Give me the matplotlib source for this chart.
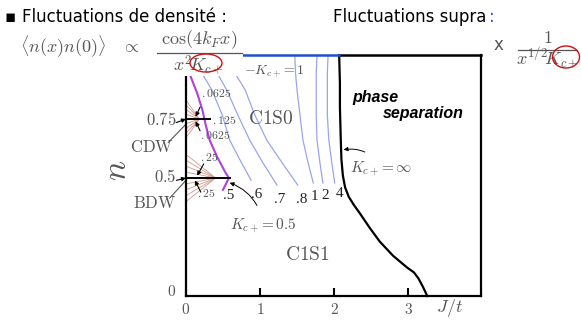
import matplotlib
matplotlib.use('Agg')
import matplotlib.pyplot as plt
from matplotlib.patches import Ellipse, Rectangle
from matplotlib.lines import Line2D

plt.rcParams['mathtext.fontset'] = 'cm'

W, H = 581, 323
GRAY = '#555555'

# phase separation boundary (K_c+ = infinity)
ps_J = [2.07, 2.08, 2.08, 2.09, 2.10, 2.12, 2.15, 2.20, 2.27, 2.35, 2.48, 2.62, 2.80, 2.99, 3.08, 3.14, 3.20, 3.26]
ps_n = [1.02, 0.90, 0.80, 0.68, 0.58, 0.51, 0.46, 0.42, 0.385, 0.35, 0.29, 0.23, 0.17, 0.12, 0.10, 0.075, 0.04, 0.0]

# K_c+ = 0.5 line (magenta)
k05_J = [0.01, 0.05, 0.15, 0.22, 0.27, 0.32, 0.42, 0.53, 0.58, 0.50]
k05_n = [1.00, 0.94, 0.86, 0.79, 0.72, 0.66, 0.59, 0.525, 0.50, 0.45]

# K_c+ contours in C1S0
contour_labels = ['.6', '.7', '.8', '1', '2', '4']
contour_J = [
    [0.12, 0.23, 0.35, 0.49, 0.59, 0.73, 0.88],
    [0.30, 0.42, 0.55, 0.70, 0.86, 1.04, 1.23],
    [0.53, 0.66, 0.80, 0.93, 1.09, 1.30, 1.51],
    [1.47, 1.48, 1.50, 1.54, 1.58, 1.65, 1.72],
    [1.77, 1.76, 1.76, 1.76, 1.77, 1.81, 1.85],
    [1.92, 1.91, 1.91, 1.91, 1.93, 1.97, 2.01],
]
contour_n = [
    [1.02, 0.936, 0.873, 0.767, 0.661, 0.576, 0.49],
    [1.02, 0.945, 0.873, 0.767, 0.661, 0.564, 0.47],
    [1.02, 0.945, 0.873, 0.767, 0.661, 0.564, 0.47],
    [1.02, 0.945, 0.873, 0.767, 0.661, 0.564, 0.479],
    [1.02, 0.945, 0.873, 0.767, 0.661, 0.564, 0.479],
    [1.02, 0.945, 0.873, 0.767, 0.661, 0.564, 0.479],
]
contour_label_J = [0.96, 1.27, 1.56, 1.74, 1.88, 2.07]
contour_label_n = [0.43, 0.41, 0.41, 0.42, 0.425, 0.435]

# fans near the CDW / BDW points
cdw_n, cdw_Jend = 0.75, 0.18
cdw_offsets = [-0.08, -0.06, -0.04, -0.02, 0.02, 0.04, 0.06, 0.08]
bdw_n, bdw_Jend = 0.50, 0.40
bdw_offsets = [-0.10, -0.075, -0.05, -0.025, 0.025, 0.05, 0.075, 0.10]

small_labels = ['.0625', '.125', '.0625', '.25', '.25']
small_J = [0.41, 0.52, 0.40, 0.31, 0.28]
small_n = [0.86, 0.745, 0.68, 0.585, 0.435]


def fp(x, y):
    """pixel position -> figure fraction"""
    return x / W, 1 - y / H


fig = plt.figure(figsize=(W / 100, H / 100), dpi=100)
fig.patch.set_facecolor('white')

ax = fig.add_axes([186 / W, (H - 296) / H, 295 / W, 241 / H])
ax.set_xlim(0, 295 / 74)
ax.set_ylim(0, 241 / 236)
for s in ax.spines.values():
    s.set_linewidth(1.6)
ax.spines['top'].set_visible(False)
ax.plot([2.07, 295 / 74], [1.0205, 1.0205], color='k', lw=1.8, clip_on=False, zorder=5)
ax.plot([0.75, 2.07], [1.0205, 1.0205], color='#2050d0', lw=1.8, clip_on=False, zorder=5)

ax.set_xticks([0, 1, 2, 3])
ax.set_xticklabels(['$0$', '$1$', '$2$', '$3$'])
ax.set_yticks([])
ax.tick_params(axis='x', direction='in', length=6, width=1.5, labelsize=11,
               labelcolor=GRAY, pad=4)

# contours
for J, n in zip(contour_J, contour_n):
    ax.plot(J, n, color='#9aa4ea', lw=0.9)
for lab, x, y in zip(contour_labels, contour_label_J, contour_label_n):
    ax.text(x, y, lab, fontsize=11, family='Liberation Serif', ha='center', va='center',
            color='#222222')
ax.text(0.58, 0.425, '.5', fontsize=11, family='Liberation Serif', ha='center', va='center',
        color='#222222')

ax.plot(k05_J, k05_n, color='#b040e0', lw=1.5)
ax.plot(ps_J, ps_n, color='k', lw=1.6, clip_on=False)

# fans
for d in cdw_offsets:
    ax.plot([0, cdw_Jend], [cdw_n + d, cdw_n], color='#d09a8a', lw=0.6)
for d in bdw_offsets:
    ax.plot([0, bdw_Jend], [bdw_n + d, bdw_n], color='#d09a8a', lw=0.6)
ax.plot([0, 0.32], [cdw_n, cdw_n], color='k', lw=1.4)
ax.plot([0, 0.59], [bdw_n, bdw_n], color='k', lw=1.4)

arr = dict(arrowstyle='-|>', color='k', lw=0.8, mutation_scale=6, shrinkA=0, shrinkB=0)
for (x0, y0), (x1, y1) in [((0.19, 0.80), (0.13, 0.76)), ((0.19, 0.70), (0.13, 0.74)),
                           ((0.24, 0.56), (0.15, 0.51)), ((0.20, 0.44), (0.12, 0.49))]:
    ax.annotate('', xy=(x1, y1), xytext=(x0, y0), arrowprops=arr)

for lab, x, y in zip(small_labels, small_J, small_n):
    ax.text(x, y, '$' + lab + '$', fontsize=8.5, ha='center', va='center', color=GRAY)

ax.text(1.15, 0.754, r'$\mathrm{C1S0}$', fontsize=14, ha='center', va='center', color=GRAY)
ax.text(1.64, 0.174, r'$\mathrm{C1S1}$', fontsize=14, ha='center', va='center', color=GRAY)
ax.text(2.25, 0.843, 'phase', fontsize=11.5, fontweight='bold', style='italic',
        family='Liberation Sans', ha='left', va='center')
ax.text(2.66, 0.775, 'separation', fontsize=11.5, fontweight='bold', style='italic',
        family='Liberation Sans', ha='left', va='center')

ax.annotate(r'$K_{c+}\!=\infty$', xy=(2.13, 0.62), xytext=(2.64, 0.54), fontsize=11,
            color=GRAY, ha='center', va='center',
            arrowprops=dict(arrowstyle='-|>', color='k', lw=0.7, mutation_scale=6,
                            connectionstyle='arc3,rad=0.35', shrinkA=6, shrinkB=0))
ax.annotate(r'$K_{c+}\!=0.5$', xy=(0.59, 0.48), xytext=(1.04, 0.30), fontsize=11,
            color=GRAY, ha='center', va='center',
            arrowprops=dict(arrowstyle='-|>', color='k', lw=0.7, mutation_scale=6,
                            connectionstyle='arc3,rad=0.3', shrinkA=6, shrinkB=0))
ax.text(0.78, 0.95, r'$-K_{c+}\!=1$', fontsize=10, color=GRAY, ha='left', va='center')

# y-axis marks
ax.text(-0.13, 0.745, '$0.75$', fontsize=12, color=GRAY, ha='right', va='center', clip_on=False)
ax.text(-0.13, 0.505, '$0.5$', fontsize=12, color=GRAY, ha='right', va='center', clip_on=False)
ax.annotate('', xy=(0, 0.75), xytext=(-0.13, 0.735), arrowprops=arr, annotation_clip=False)
ax.annotate('', xy=(0, 0.50), xytext=(-0.13, 0.49), arrowprops=arr, annotation_clip=False)
ax.text(-0.46, 0.63, r'$\mathrm{CDW}$', fontsize=12, color=GRAY, ha='center', va='center', clip_on=False)
ax.text(-0.42, 0.394, r'$\mathrm{BDW}$', fontsize=12, color=GRAY, ha='center', va='center', clip_on=False)
ax.plot([-0.24, -0.01], [0.65, 0.725], color=GRAY, lw=0.8, clip_on=False)
ax.plot([-0.22, -0.01], [0.415, 0.487], color=GRAY, lw=0.8, clip_on=False)

fig.text(*fp(172, 292), '$0$', fontsize=11, color=GRAY, ha='center', va='center')
fig.text(*fp(450, 308), '$J/t$', fontsize=13, color=GRAY, ha='center', va='center')
fig.text(*fp(117, 170), '$n$', fontsize=24, color=GRAY, ha='center', va='center', rotation=90)

# header
fig.text(*fp(10, 17), '\u25aa', fontsize=12, ha='center', va='center')
fig.text(*fp(22, 17), 'Fluctuations de densité :', fontsize=12, ha='left', va='center')
fig.text(*fp(333, 17), 'Fluctuations supra', fontsize=12, ha='left', va='center')
fig.text(*fp(489, 17), ':', fontsize=12, ha='left', va='center', color='#3050e0')

# formula box covering top-left of the plot
fig.patches.append(Rectangle(fp(150, 76), 93 / W, 48 / H, transform=fig.transFigure,
                             facecolor='white', edgecolor='none', zorder=5))
fig.text(*fp(20, 47), r'$\langle n(x)n(0)\rangle$', fontsize=13, color=GRAY, ha='left', va='center', zorder=6)
fig.text(*fp(130, 47), r'$\propto$', fontsize=13, color=GRAY, ha='center', va='center', zorder=6)
fig.text(*fp(199, 40), r'$\cos(4k_Fx)$', fontsize=13, color=GRAY, ha='center', va='center', zorder=6)
fig.add_artist(Line2D([157 / W, 242 / W], [1 - 53 / H, 1 - 53 / H], color=GRAY, lw=0.9, zorder=6))
fig.text(*fp(198, 65), r'$x^{2}\!K_{c+}$', fontsize=13, color=GRAY, ha='center', va='center', zorder=6)
fig.patches.append(Ellipse(fp(206, 63), 32 / W, 18 / H, transform=fig.transFigure,
                           facecolor='none', edgecolor='#d01010', lw=1.0, zorder=7))

fig.text(*fp(498, 45), 'x', fontsize=12, color=GRAY, ha='center', va='center')
fig.text(*fp(548, 38), '$1$', fontsize=13, color=GRAY, ha='center', va='center')
fig.add_artist(Line2D([518 / W, 577 / W], [1 - 50 / H, 1 - 50 / H], color=GRAY, lw=0.9))
fig.text(*fp(547, 59), r'$x^{1/2}\!K_{c+}$', fontsize=13, color=GRAY, ha='center', va='center')
fig.patches.append(Ellipse(fp(566, 57), 27 / W, 22 / H, transform=fig.transFigure,
                           facecolor='none', edgecolor='#d01010', lw=1.0, zorder=7))

fig.savefig('out.png', dpi=100, facecolor='white')
